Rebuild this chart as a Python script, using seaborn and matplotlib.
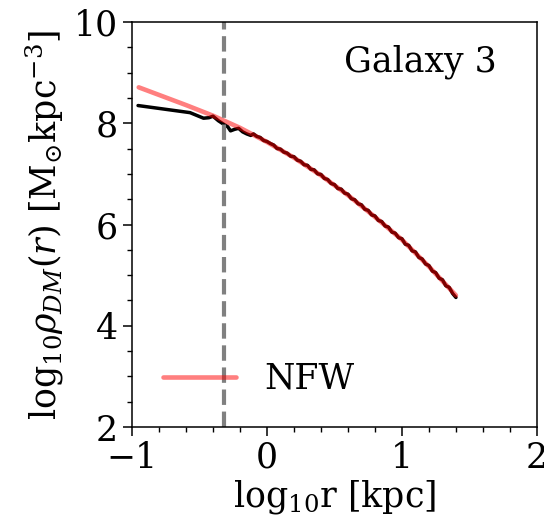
import matplotlib
matplotlib.use("Agg")
import matplotlib.pyplot as plt
import seaborn as sns
import pandas as pd
from matplotlib.ticker import MultipleLocator

# ---- data ----
data_logr = [-0.955, -0.57, -0.47, -0.43, -0.40, -0.36, -0.32, -0.29, -0.27, -0.24,
             -0.21, -0.18, -0.15, -0.12,
             -0.100, -0.075, -0.050, -0.025, 0.000, 0.025, 0.050, 0.075, 0.100, 0.125,
             0.150, 0.175, 0.200, 0.225, 0.250, 0.275, 0.300, 0.325, 0.350, 0.375,
             0.400, 0.425, 0.450, 0.475, 0.500, 0.525, 0.550, 0.575, 0.600, 0.625,
             0.650, 0.675, 0.700, 0.725, 0.750, 0.775, 0.800, 0.825, 0.850, 0.875,
             0.900, 0.925, 0.950, 0.975, 1.000, 1.025, 1.050, 1.075, 1.100, 1.125,
             1.150, 1.175, 1.200, 1.225, 1.250, 1.275, 1.300, 1.325, 1.350, 1.375, 1.400]
data_logrho = [8.35, 8.21, 8.10, 8.11, 8.14, 8.05, 7.98, 7.93, 7.85, 7.88,
               7.90, 7.83, 7.79, 7.76,
               7.79, 7.74, 7.72, 7.66, 7.64, 7.60, 7.57, 7.50, 7.49, 7.43,
               7.41, 7.35, 7.34, 7.27, 7.25, 7.18, 7.17, 7.09, 7.08, 7.00,
               6.99, 6.91, 6.89, 6.81, 6.79, 6.71, 6.70, 6.62, 6.60, 6.51,
               6.49, 6.41, 6.39, 6.30, 6.28, 6.19, 6.17, 6.08, 6.06, 5.97,
               5.95, 5.85, 5.83, 5.74, 5.72, 5.61, 5.59, 5.48, 5.46, 5.35,
               5.32, 5.22, 5.19, 5.08, 5.05, 4.94, 4.91, 4.79, 4.76, 4.64, 4.56]

nfw_logr = [-0.95, -0.8, -0.6, -0.4, -0.2, 0.0, 0.2, 0.4, 0.6, 0.8, 1.0, 1.2, 1.4]
nfw_logrho = [8.71, 8.56, 8.36, 8.15, 7.91, 7.63, 7.32, 6.97, 6.58, 6.15, 5.70, 5.17, 4.60]

r_cut = -0.32
label_text = "Galaxy 3"
legend_label = "NFW"

df_data = pd.DataFrame({"logr": data_logr, "logrho": data_logrho})
df_nfw = pd.DataFrame({"logr": nfw_logr, "logrho": nfw_logrho})

sns.set_style("ticks")
plt.rcParams["font.family"] = ["DejaVu Serif"]
plt.rcParams["mathtext.fontset"] = "dejavuserif"
for key in ["text.color", "axes.labelcolor", "xtick.color", "ytick.color", "axes.edgecolor"]:
    plt.rcParams[key] = "black"
fs = 25

fig = plt.figure(figsize=(5.44, 5.24), dpi=100)
ax = fig.add_axes([0.2426, 0.185, 0.7444, 0.773])

sns.lineplot(data=df_data, x="logr", y="logrho", ax=ax, color="black",
             linewidth=2.5, estimator=None, sort=False)
sns.lineplot(data=df_nfw, x="logr", y="logrho", ax=ax, color="red", alpha=0.5,
             linewidth=3.3, estimator=None, sort=False, label=legend_label)
ax.axvline(r_cut, color="gray", linestyle="--", linewidth=3)

ax.set_xlim(-1, 2)
ax.set_ylim(2, 10)
ax.xaxis.set_major_locator(MultipleLocator(1))
ax.xaxis.set_minor_locator(MultipleLocator(0.2))
ax.yaxis.set_major_locator(MultipleLocator(2))
ax.yaxis.set_minor_locator(MultipleLocator(0.5))
ax.tick_params(which="major", direction="out", length=6.5, width=1.1, labelsize=fs)
ax.tick_params(which="minor", direction="out", length=3.3, width=1.0)
for s in ax.spines.values():
    s.set_linewidth(1.1)
    s.set_color("black")

ax.set_xlabel("log$_{10}$r [kpc]", fontsize=fs, labelpad=2)
ax.set_ylabel(r"log$_{10}\rho_{DM}(r)$ [M$_{\odot}$kpc$^{-3}$]", fontsize=fs, labelpad=6)

ax.text(0.711, 0.901, label_text, transform=ax.transAxes, fontsize=fs,
        ha="center", va="center")
ax.legend(loc="lower left", frameon=False, fontsize=fs, handlelength=2.1,
          bbox_to_anchor=(0.0, 0.0))

fig.savefig("out.png", dpi=100)
